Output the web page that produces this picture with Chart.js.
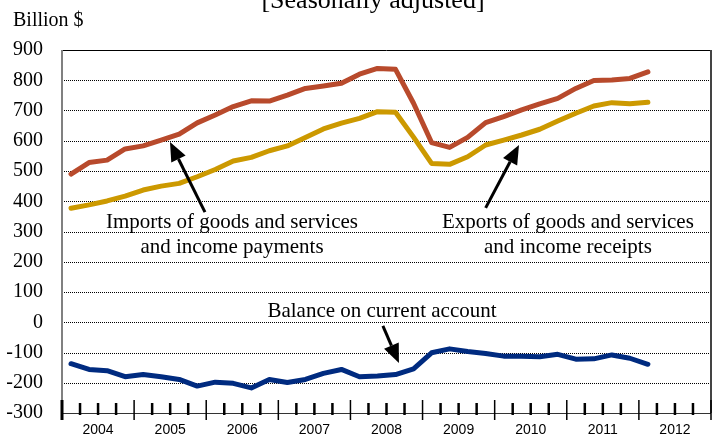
<!DOCTYPE html>
<html><head><meta charset="utf-8">
<script src="https://cdn.jsdelivr.net/npm/chart.js@4"></script>
<style>html,body{margin:0;padding:0;background:#fff}canvas{display:block}</style>
</head><body>
<canvas id="c" width="715" height="439"></canvas>
<script>
// ---- data (billions of dollars, quarterly, 2004Q1 - 2012Q1) ----
const years = ['2004','2005','2006','2007','2008','2009','2010','2011','2012'];
const yTicks = [-300,-200,-100,0,100,200,300,400,500,600,700,800,900];
const imports = [490,528,536,573,583,602,622,659,685,713,732,731,751,773,781,790,820,839,836,724,594,578,611,660,680,702,722,740,773,799,801,806,828];
const exportsData = [377,388,401,417,437,450,459,481,505,533,545,567,583,611,639,658,674,696,694,612,525,522,547,586,602,619,638,665,691,715,726,722,727];
const balance = [-137,-156,-160,-180,-173,-180,-189,-211,-198,-202,-217,-189,-199,-189,-169,-156,-180,-178,-173,-154,-101,-88,-97,-103,-112,-112,-114,-106,-122,-121,-108,-119,-139];

const quarters = [];
years.forEach(yr => { for (let q = 1; q <= 4; q++) quarters.push(yr + 'Q' + q); });

const SERIF = '"Liberation Serif", "Times New Roman", serif';
const SANS = '"Liberation Sans", Arial, sans-serif';

// annotations anchored in data units: [categoryIndex, value]
const notes = [
  {lines:['Imports of goods and services','and income payments'], at:[8.93, 311], gap:25},
  {lines:['Exports of goods and services','and income receipts'], at:[27.56, 311], gap:25},
  {lines:['Balance on current account'], at:[17.25, 17], gap:25}
];
const arrows = [
  {from:[7.43, 364], to:[5.49, 596]},
  {from:[23.0, 378], to:[24.85, 586]},
  {from:[17.30, -12], to:[18.19, -135]}
];

const gridPlugin = {
  id: 'dotGrid',
  beforeDatasetsDraw(chart) {
    const {ctx, chartArea: a, scales: {y}} = chart;
    ctx.save();
    ctx.strokeStyle = '#000'; ctx.lineWidth = 1; ctx.setLineDash([1, 1]);
    yTicks.forEach(v => {
      if (v === 900 || v === -300) return;
      const py = Math.round(y.getPixelForValue(v)) + 0.5;
      ctx.beginPath(); ctx.moveTo(a.left, py); ctx.lineTo(a.right, py); ctx.stroke();
    });
    ctx.restore();
  }
};

const overlay = {
  id: 'overlay',
  afterDraw(chart) {
    const {ctx, chartArea: a, scales: {x, y}} = chart;
    ctx.save();
    // frame
    ctx.lineCap = 'butt';
    ctx.strokeStyle = '#000'; ctx.lineWidth = 1;
    ctx.beginPath(); ctx.moveTo(a.left, a.top + 0.5); ctx.lineTo(a.right, a.top + 0.5); ctx.stroke();
    ctx.strokeStyle = '#444'; ctx.lineWidth = 2;
    ctx.beginPath(); ctx.moveTo(a.right, a.top); ctx.lineTo(a.right, a.bottom); ctx.stroke();
    ctx.strokeStyle = '#808080'; ctx.lineWidth = 2;
    ctx.beginPath(); ctx.moveTo(a.left, a.top); ctx.lineTo(a.left, a.bottom); ctx.stroke();
    ctx.strokeStyle = '#333'; ctx.lineWidth = 1;
    ctx.beginPath(); ctx.moveTo(a.left, a.bottom + 0.5); ctx.lineTo(a.right, a.bottom + 0.5); ctx.stroke();
    // x ticks at quarter boundaries
    for (let i = 0; i <= quarters.length; i++) {
      const px = x.getPixelForValue(i - 0.5);
      ctx.strokeStyle = '#000';
      ctx.beginPath();
      if (i === 0) { ctx.lineWidth = 3; ctx.moveTo(px, a.bottom - 13); ctx.lineTo(px, a.bottom + 7); }
      else if (i % 4 === 0) { ctx.lineWidth = 1.5; ctx.moveTo(px, a.bottom - 13); ctx.lineTo(px, a.bottom + 7); }
      else { ctx.lineWidth = 2.5; ctx.moveTo(px, a.bottom - 10); ctx.lineTo(px, a.bottom + 2); }
      ctx.stroke();
    }
    // year labels
    ctx.fillStyle = '#000'; ctx.font = '14px ' + SANS; ctx.textAlign = 'center'; ctx.textBaseline = 'alphabetic';
    years.forEach((yr, k) => ctx.fillText(yr, x.getPixelForValue(k * 4 + 1.5), a.bottom + 21));
    // title and unit
    ctx.font = '26px ' + SERIF; ctx.textAlign = 'center';
    ctx.fillText('[Seasonally adjusted]', 373, 8);
    ctx.font = '20px ' + SERIF; ctx.textAlign = 'left';
    ctx.fillText('Billion $', 13, 26);
    // annotations
    ctx.font = '21px ' + SERIF; ctx.textAlign = 'center';
    notes.forEach(n => {
      const cx = x.getPixelForValue(n.at[0]);
      const by = y.getPixelForValue(n.at[1]);
      n.lines.forEach((t, j) => ctx.fillText(t, cx, by + j * n.gap));
    });
    // arrows
    arrows.forEach(ar => {
      const x1 = x.getPixelForValue(ar.from[0]), y1 = y.getPixelForValue(ar.from[1]);
      const x2 = x.getPixelForValue(ar.to[0]), y2 = y.getPixelForValue(ar.to[1]);
      const ang = Math.atan2(y2 - y1, x2 - x1);
      const L = 19, W = 8;
      const bx = x2 - L * Math.cos(ang), byy = y2 - L * Math.sin(ang);
      ctx.strokeStyle = '#000'; ctx.lineWidth = 3;
      ctx.beginPath(); ctx.moveTo(x1, y1); ctx.lineTo(bx, byy); ctx.stroke();
      ctx.fillStyle = '#000';
      ctx.beginPath();
      ctx.moveTo(x2, y2);
      ctx.lineTo(bx + W * Math.sin(ang), byy - W * Math.cos(ang));
      ctx.lineTo(bx - W * Math.sin(ang), byy + W * Math.cos(ang));
      ctx.closePath(); ctx.fill();
    });
    ctx.restore();
  }
};

const ds = (label, data, color) => ({
  label, data, borderColor: color, backgroundColor: color, borderWidth: 5,
  pointRadius: 0, tension: 0, fill: false, borderJoinStyle: 'round', borderCapStyle: 'round'
});

new Chart(document.getElementById('c'), {
  type: 'line',
  data: {
    labels: quarters,
    datasets: [
      ds('Imports of goods and services and income payments', imports, '#B84A2C'),
      ds('Exports of goods and services and income receipts', exportsData, '#CC9900'),
      ds('Balance on current account', balance, '#002B80')
    ]
  },
  options: {
    responsive: false, animation: false, devicePixelRatio: 1,
    layout: {padding: {left: 0, right: 4, top: 50, bottom: 26}},
    plugins: {legend: {display: false}, tooltip: {enabled: false}, title: {display: false}},
    scales: {
      x: {type: 'category', offset: true, display: false},
      y: {
        type: 'linear', min: -300, max: 900,
        afterBuildTicks: s => { s.ticks = yTicks.map(v => ({value: v})); },
        afterFit: s => { s.width = 62; },
        ticks: {color: '#000', padding: 0, font: {family: SERIF, size: 20}},
        grid: {display: true, drawOnChartArea: false, drawTicks: true, tickLength: 19, tickColor: 'rgba(0,0,0,0)', color: 'rgba(0,0,0,0)'},
        border: {display: false}
      }
    }
  },
  plugins: [gridPlugin, overlay]
});
</script>
</body></html>
